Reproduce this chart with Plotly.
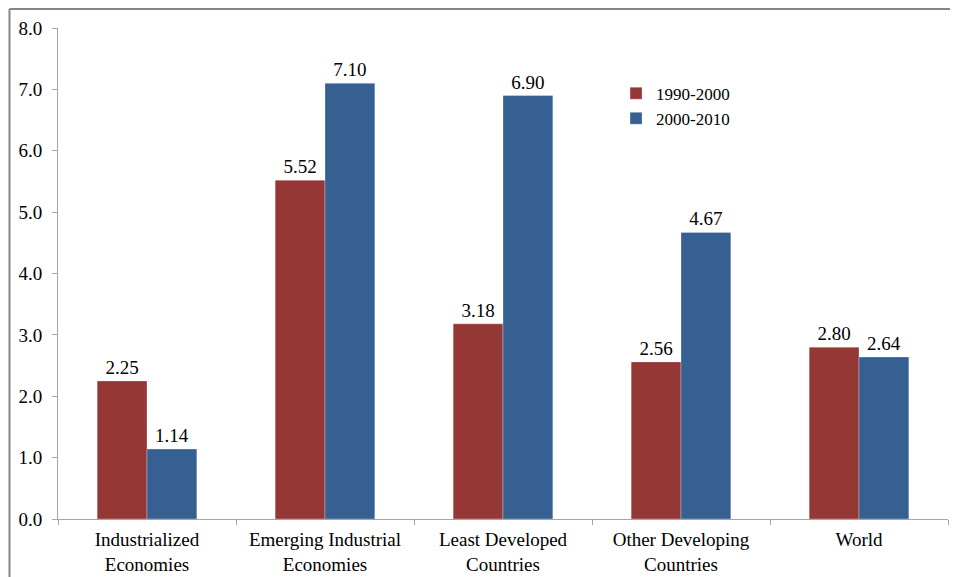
import plotly.graph_objects as go

categories = [
    "Industrialized<br>Economies",
    "Emerging Industrial<br>Economies",
    "Least Developed<br>Countries",
    "Other Developing<br>Countries",
    "World",
]
growth_1990_2000 = [2.25, 5.52, 3.18, 2.56, 2.80]
growth_2000_2010 = [1.14, 7.10, 6.90, 4.67, 2.64]

font_family = "Times New Roman, Liberation Serif, serif"
border = dict(color="#868686", width=2)

fig = go.Figure()
fig.add_trace(
    go.Bar(
        x=categories,
        y=growth_1990_2000,
        name="1990-2000",
        marker_color="#953735",
        text=[f"{v:.2f}" for v in growth_1990_2000],
        textposition="outside",
        cliponaxis=False,
    )
)
fig.add_trace(
    go.Bar(
        x=categories,
        y=growth_2000_2010,
        name="2000-2010",
        marker_color="#376092",
        text=[f"{v:.2f}" for v in growth_2000_2010],
        textposition="outside",
        cliponaxis=False,
    )
)

fig.update_traces(
    textfont=dict(size=19, color="#000000", family=font_family),
    marker_line=dict(color="rgba(255,255,255,0.6)", width=0.5),
)

# the page body has an 8px margin, so the figure is shifted by that much
fig.update_layout(
    width=942,
    height=569,
    margin=dict(l=50, r=2, t=20, b=58),
    plot_bgcolor="white",
    paper_bgcolor="white",
    font=dict(family=font_family, size=19, color="#000000"),
    barmode="group",
    bargap=0.44,
    bargroupgap=0,
    showlegend=True,
    legend=dict(
        x=0.627,
        y=0.903,
        xanchor="left",
        yanchor="top",
        font=dict(size=17),
        bgcolor="rgba(0,0,0,0)",
        itemwidth=30,
        tracegroupgap=0,
    ),
    shapes=[
        # chart frame: only the left and top edges show in the picture
        dict(type="line", xref="paper", yref="paper",
             x0=-0.0545, x1=-0.0545, y0=-0.3, y1=1.0385, line=border),
        dict(type="line", xref="paper", yref="paper",
             x0=-0.0545, x1=1.2, y0=1.0385, y1=1.0385, line=border),
    ],
)

fig.update_yaxes(
    range=[0, 8],
    dtick=1,
    tickformat=".1f",
    showgrid=False,
    zeroline=False,
    showline=True,
    linecolor="#a6a6a6",
    linewidth=1,
    ticks="outside",
    ticklen=5,
    tickcolor="#a6a6a6",
    tickfont=dict(size=19),
    ticklabelstandoff=6,
    automargin=False,
)
fig.update_xaxes(
    showgrid=False,
    showline=True,
    linecolor="#a6a6a6",
    linewidth=1,
    ticks="outside",
    tickson="boundaries",
    ticklen=5,
    tickcolor="#a6a6a6",
    tickfont=dict(size=19),
    tickangle=0,
    ticklabelstandoff=3,
    automargin=False,
)

fig.write_html("out.html")
